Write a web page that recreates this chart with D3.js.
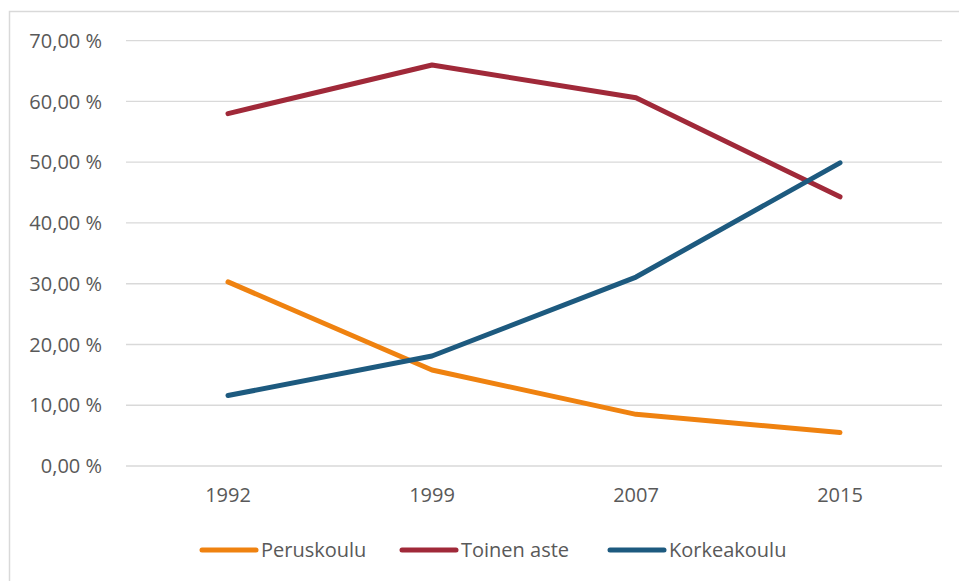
<html>
<meta charset="UTF-8">
<head>
<title>koulutus</title>
<style>
  body { margin: 0; background: #fff; }
  text { font-family: "Open Sans", "Liberation Sans", sans-serif; fill: #595959; }
</style>
</head>
<body>
<script src="https://cdn.jsdelivr.net/npm/d3@7"></script>
<script>
  // data
  let years = ["1992", "1999", "2007", "2015"]
  let peruskoulu = [30.3, 15.8, 8.5, 5.5]
  let toinenAste = [58.0, 66.0, 60.6, 44.3]
  let korkeakoulu = [11.6, 18.1, 31.1, 49.9]
  let yTicks = [0, 10, 20, 30, 40, 50, 60, 70]

  let series = [
    { name: "Peruskoulu", values: peruskoulu, color: "#ef8210" },
    { name: "Toinen aste", values: toinenAste, color: "#a02939" },
    { name: "Korkeakoulu", values: korkeakoulu, color: "#1d5a7f" }
  ]

  let svg = d3.select("body").append("svg")
    .attr("width", 959)
    .attr("height", 581)

  // chart frame
  svg.append("path")
    .attr("d", "M9.5,581 V11.5 H959")
    .attr("fill", "none")
    .attr("stroke", "#d9d9d9")
    .attr("stroke-width", 1.5)

  let x = d3.scaleBand().domain(years).range([126, 942])
  let y = d3.scaleLinear().domain([0, 70]).range([466, 40.7])

  // gridlines + y labels
  let yAxis = svg.append("g")
  yAxis.selectAll("line").data(yTicks).enter().append("line")
    .attr("x1", 126).attr("x2", 942)
    .attr("y1", d => y(d)).attr("y2", d => y(d))
    .attr("stroke", "#d9d9d9").attr("stroke-width", 1.3)
  yAxis.selectAll("text").data(yTicks).enter().append("text")
    .attr("x", 102).attr("y", d => y(d))
    .attr("dy", "0.36em")
    .attr("text-anchor", "end")
    .attr("font-size", 20)
    .text(d => d3.format(".2f")(d).replace(".", ",") + " %")

  // x labels
  svg.append("g").selectAll("text").data(years).enter().append("text")
    .attr("x", d => x(d) + x.bandwidth() / 2)
    .attr("y", 495).attr("dy", "0.36em")
    .attr("text-anchor", "middle")
    .attr("font-size", 20)
    .text(d => d)

  let line = d3.line()
    .x((d, i) => x(years[i]) + x.bandwidth() / 2)
    .y(d => y(d))

  svg.append("g").selectAll("path").data(series).enter().append("path")
    .attr("d", d => line(d.values))
    .attr("fill", "none")
    .attr("stroke", d => d.color)
    .attr("stroke-width", 5)
    .attr("stroke-linecap", "round")
    .attr("stroke-linejoin", "round")

  // legend
  let legendX = [202, 402, 610]
  let legend = svg.append("g").selectAll("g").data(series).enter().append("g")
    .attr("transform", (d, i) => "translate(" + legendX[i] + ", 550)")
  legend.append("line")
    .attr("x1", 0).attr("x2", 54)
    .attr("stroke", d => d.color)
    .attr("stroke-width", 5)
    .attr("stroke-linecap", "round")
  legend.append("text")
    .attr("x", 59).attr("dy", "0.36em")
    .attr("font-size", 20)
    .text(d => d.name)
</script>
</body>
</html>
